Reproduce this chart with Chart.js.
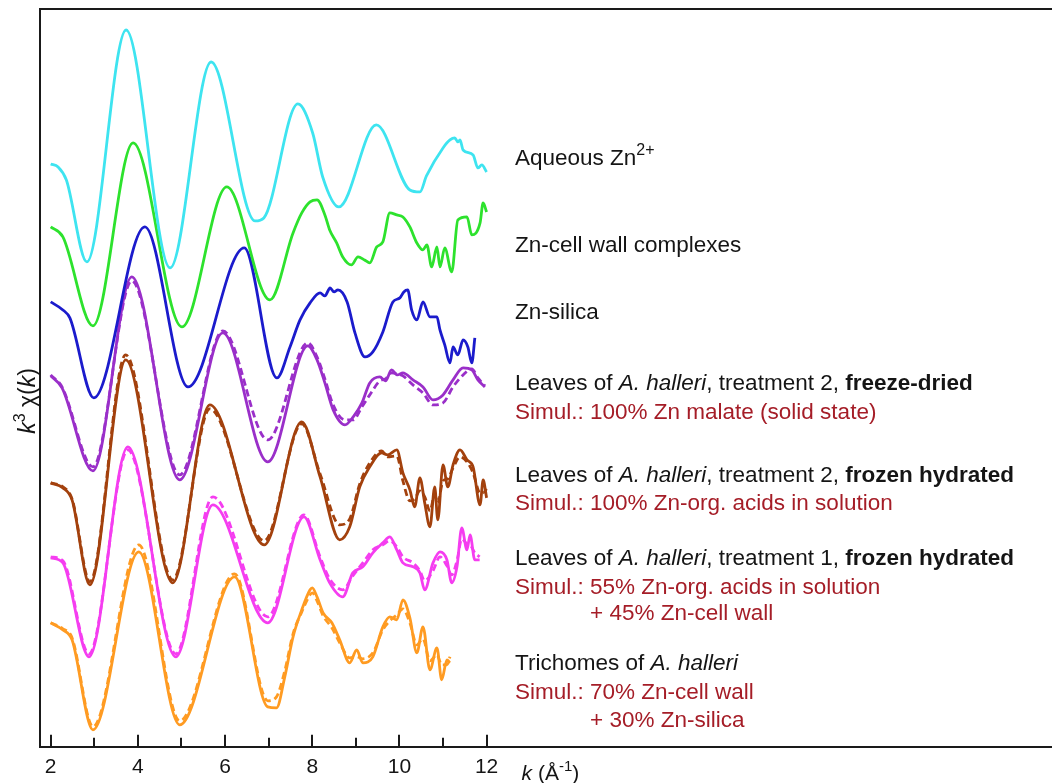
<!DOCTYPE html>
<html>
<head>
<meta charset="utf-8">
<script src="https://cdn.jsdelivr.net/npm/chart.js@4"></script>
<style>
  html, body { margin: 0; padding: 0; background: #fff; }
</style>
</head>
<body>
<canvas id="exafs" width="1052" height="783"></canvas>
<script>
// k (Å-1) ticks of the figure
const kTicks = [2, 3, 4, 5, 6, 7, 8, 9, 10, 11, 12];

// vertical shift of each spectrum in the stack (top to bottom)
const offsets = [58, 51, 44, 37, 26, 19, 11];

// Aqueous Zn2+
const kAqueous = [2.0, 2.17, 2.36, 2.83, 3.73, 4.74, 5.68, 6.69, 6.89, 7.67, 8.01, 8.24, 8.61, 9.47, 10.24, 10.47, 10.62, 11.0, 11.16, 11.27, 11.34, 11.39, 11.46, 11.69, 11.8, 11.89, 12.0];
const yAqueous = [0.3, 0.0, -1.3, -9.5, 13.7, -10.1, 10.5, -5.4, -5.1, 6.3, 3.4, -1.0, -4.0, 4.2, -2.3, -2.5, -0.9, 1.9, 2.7, 2.9, 2.5, 2.7, 1.7, 1.2, -0.1, 0.2, -0.5];

// Zn-cell wall complexes
const kCellWall = [2.0, 2.28, 2.97, 3.89, 5.01, 6.04, 7.03, 7.56, 7.76, 7.95, 8.11, 8.29, 8.4, 8.56, 8.7, 8.9, 9.05, 9.2, 9.32, 9.48, 9.62, 9.78, 9.94, 10.08, 10.24, 10.4, 10.54, 10.63, 10.74, 10.86, 10.93, 11.04, 11.2, 11.34, 11.55, 11.66, 11.85, 11.92, 12.0];
const yCellWall = [1.0, 0.0, -8.9, 9.4, -9.0, 5.0, -6.3, 0.4, 2.4, 3.5, 3.7, 2.2, 0.7, -0.6, -2.0, -2.8, -2.0, -2.3, -2.6, -1.0, -0.5, 2.4, 2.2, 2.0, 1.0, -0.6, -1.3, -0.8, -3.0, -1.0, -3.0, -1.1, -3.5, 1.7, 2.0, 0.2, 1.4, 3.4, 2.5];

// Zn-silica
const kSilica = [2.0, 2.28, 2.44, 2.99, 4.16, 5.15, 6.44, 7.19, 7.49, 7.72, 7.95, 8.18, 8.29, 8.41, 8.5, 8.59, 8.8, 8.98, 9.21, 9.39, 9.62, 9.85, 10.01, 10.1, 10.19, 10.28, 10.4, 10.54, 10.7, 10.86, 10.93, 11.04, 11.16, 11.23, 11.34, 11.46, 11.57, 11.66, 11.73];
const ySilica = [0.5, -0.3, -1.1, -9.1, 8.0, -8.0, 5.9, -7.1, -4.0, -1.3, 0.4, 1.4, 1.1, 1.9, 1.5, 1.7, 0.5, -2.6, -5.0, -4.5, -2.5, 0.5, 0.9, 1.5, 1.7, -0.3, -1.3, 0.5, -1.0, -1.0, -2.3, -3.8, -5.6, -4.0, -4.8, -3.3, -4.0, -5.6, -3.1];

// Leaves, treatment 2, freeze-dried (data and simulation)
const kFreezeDried = [2.0, 2.26, 2.97, 3.86, 4.96, 5.95, 6.98, 7.9, 8.11, 8.29, 8.48, 8.75, 8.94, 9.14, 9.32, 9.55, 9.68, 9.82, 9.95, 10.08, 10.31, 10.54, 10.77, 11.0, 11.23, 11.46, 11.66, 11.8, 11.96];
const yFreezeDried = [0.1, -1.1, -9.4, 10.0, -10.3, 4.4, -8.5, 3.1, 1.7, -0.6, -3.3, -4.8, -4.0, -2.6, -0.6, 0.0, -0.4, 0.7, 0.2, 0.4, -0.3, -1.0, -2.3, -1.8, -0.3, 0.9, 0.7, -0.3, -1.0];
const simFreezeDried = [0.2, -1.0, -9.0, 9.6, -9.8, 4.6, -6.3, 3.4, 2.0, -0.2, -2.8, -4.3, -4.3, -3.0, -1.8, -0.4, -0.2, 0.4, 0.3, 0.1, -0.8, -1.6, -2.8, -2.6, -1.0, 0.2, 0.8, -0.1, -0.9];

// Leaves, treatment 2, frozen hydrated (data and simulation)
const kFrozen2 = [2.0, 2.28, 2.49, 2.9, 3.72, 4.8, 5.65, 6.9, 7.76, 8.18, 8.63, 8.86, 9.09, 9.32, 9.59, 9.73, 9.94, 10.08, 10.24, 10.35, 10.47, 10.58, 10.7, 10.81, 10.88, 11.0, 11.11, 11.23, 11.39, 11.55, 11.69, 11.85, 11.92, 12.0];
const yFrozen2 = [0.4, -0.1, -1.3, -9.8, 12.7, -9.6, 8.2, -5.8, 6.5, 1.0, -5.3, -4.0, 0.0, 2.0, 3.4, 3.2, 3.7, 1.4, -0.3, -2.0, 0.9, -1.6, -4.0, 0.0, -3.3, 2.2, 0.0, 2.2, 3.7, 2.7, 2.0, -1.8, 0.7, -1.1];
const simFrozen2 = [0.4, 0.0, -1.2, -9.5, 13.2, -9.3, 7.8, -5.4, 6.3, 1.3, -3.8, -3.2, 0.3, 2.4, 3.6, 3.0, 3.1, 0.6, -1.4, -1.2, -0.4, -1.0, -2.4, -0.8, -1.6, 0.6, 0.8, 1.9, 3.0, 2.5, 1.4, -0.6, -0.6, -0.2];

// Leaves, treatment 1, frozen hydrated (data and simulation)
const kFrozen1 = [2.0, 2.28, 2.88, 3.77, 4.87, 5.72, 6.98, 7.81, 8.18, 8.4, 8.7, 8.93, 9.16, 9.39, 9.62, 9.78, 9.94, 10.08, 10.31, 10.47, 10.58, 10.77, 10.93, 11.09, 11.2, 11.32, 11.43, 11.55, 11.62, 11.73, 11.84];
const yFrozen1 = [-0.1, -0.6, -10.0, 11.0, -10.0, 5.2, -6.6, 4.0, -0.3, -2.6, -4.0, -1.6, -1.0, 0.4, 1.4, 2.0, 0.7, -0.6, -1.0, -1.6, -3.3, -0.6, 0.5, -0.3, -2.6, -1.0, 2.9, 0.7, 2.2, -0.3, -0.3];
const simFrozen1 = [0.0, -0.4, -9.7, 10.7, -9.7, 6.0, -6.0, 4.2, 0.0, -2.2, -3.3, -1.9, -0.6, 0.7, 1.2, 1.6, 1.0, 0.0, -0.6, -1.4, -2.4, -1.4, 0.0, -0.9, -1.8, -0.4, 1.8, 1.3, 1.2, 0.4, 0.0];

// Trichomes (data and simulation)
const kTrichomes = [2.0, 2.28, 2.49, 2.97, 4.02, 4.96, 6.22, 6.98, 7.18, 7.37, 7.56, 7.76, 7.95, 8.0, 8.11, 8.25, 8.45, 8.63, 8.86, 9.02, 9.16, 9.39, 9.62, 9.78, 9.94, 10.08, 10.24, 10.4, 10.54, 10.7, 10.86, 10.97, 11.09, 11.16];
const yTrichomes = [1.4, 0.7, -0.3, -9.3, 8.5, -8.8, 6.0, -7.0, -7.1, -4.0, 0.0, 2.7, 4.7, 4.9, 4.0, 2.4, 1.4, -0.3, -2.6, -1.3, -2.6, -2.0, 1.0, 2.0, 1.7, 3.7, 1.9, -1.6, 1.0, -3.3, -1.1, -4.3, -2.3, -2.6];
const simTrichomes = [1.4, 0.8, -0.1, -9.0, 9.2, -8.4, 6.3, -6.4, -6.0, -3.4, 0.3, 2.5, 4.2, 4.4, 3.6, 2.1, 0.9, -0.6, -2.1, -2.0, -2.2, -1.6, 0.7, 1.6, 2.2, 2.8, 1.4, -0.8, -0.2, -2.4, -1.8, -2.8, -2.8, -2.0];

// right-hand labels: runs of [text, style]
const labelLines = [
  [["Aqueous Zn"], ["2+", "sup"]],
  [["Zn-cell wall complexes"]],
  [["Zn-silica"]],
  [["Leaves of "], ["A. halleri", "i"], [", treatment 2, "], ["freeze-dried", "b"]],
  [["Simul.: 100% Zn malate (solid state)"]],
  [["Leaves of "], ["A. halleri", "i"], [", treatment 2, "], ["frozen hydrated", "b"]],
  [["Simul.: 100% Zn-org. acids in solution"]],
  [["Leaves of "], ["A. halleri", "i"], [", treatment 1, "], ["frozen hydrated", "b"]],
  [["Simul.: 55% Zn-org. acids in solution"]],
  [["+ 45% Zn-cell wall"]],
  [["Trichomes of "], ["A. halleri", "i"]],
  [["Simul.: 70% Zn-cell wall"]],
  [["+ 30% Zn-silica"]],
];
const labelY = [159, 246, 313, 384, 413, 476, 504, 559, 588, 614, 664, 693, 721];
const labelRed = [false, false, false, false, true, false, true, false, true, true, false, true, true];
const labelIndent = [false, false, false, false, false, false, false, false, false, true, false, false, true];

const FONT = '"Liberation Sans", Arial, Helvetica, sans-serif';
const BLACK = "#151515";
const RED = "#a51d27";

function toPoints(ks, ys, off) {
  return ks.map((k, i) => ({ x: k, y: ys[i] + off }));
}

function curve(ks, ys, off, color, dashed) {
  return {
    data: toPoints(ks, ys, off),
    borderColor: color,
    borderWidth: 2.8,
    borderDash: dashed ? [7, 4] : [],
    pointRadius: 0,
    cubicInterpolationMode: "monotone",
    fill: false,
  };
}

function fontFor(style, size) {
  const s = style || "";
  const italic = s === "i" ? "italic " : "";
  const bold = s === "b" ? "bold " : "";
  const px = s === "sup" ? Math.round(size * 0.7) : size;
  return `${italic}${bold}${px}px ${FONT}`;
}

// draws a line of text made of styled runs, returns the end x
function drawRuns(ctx, x, y, runs, size, color) {
  ctx.textBaseline = "middle";
  ctx.textAlign = "left";
  ctx.fillStyle = color;
  runs.forEach(([t, s]) => {
    ctx.font = fontFor(s, size);
    const dy = s === "sup" ? -size * 0.36 : 0;
    ctx.fillText(t, x, y + dy);
    x += ctx.measureText(t).width;
  });
  return x;
}

function runsWidth(ctx, runs, size) {
  let w = 0;
  runs.forEach(([t, s]) => {
    ctx.font = fontFor(s, size);
    w += ctx.measureText(t).width;
  });
  return w;
}

const decorPlugin = {
  id: "decor",
  afterDraw(chart) {
    const { ctx, chartArea: a } = chart;
    const x = chart.scales.x;
    ctx.save();

    // frame: left and top lines
    ctx.strokeStyle = "#1a1a1a";
    ctx.lineWidth = 2;
    ctx.beginPath();
    ctx.moveTo(a.left, a.bottom);
    ctx.lineTo(a.left, a.top);
    ctx.lineTo(a.right, a.top);
    ctx.stroke();

    // tick marks pointing inward
    kTicks.forEach((v) => {
      const px = Math.round(x.getPixelForValue(v));
      const len = v % 2 === 0 ? 12 : 9;
      ctx.beginPath();
      ctx.moveTo(px, a.bottom);
      ctx.lineTo(px, a.bottom - len);
      ctx.stroke();
    });

    // x axis title
    const xt = [["k", "i"], [" (Å"], ["-1", "sup"], [")"]];
    drawRuns(ctx, x.getPixelForValue(12) + 35, 774, xt, 21, BLACK);

    // y axis title
    const yt = [["k", "i"], ["3", "sup"], [" χ("], ["k", "i"], [")"]];
    ctx.save();
    ctx.translate(29, 401);
    ctx.rotate(-Math.PI / 2);
    drawRuns(ctx, -runsWidth(ctx, yt, 23) / 2, 0, yt, 23, BLACK);
    ctx.restore();

    // curve labels
    const left = 515;
    ctx.font = fontFor("", 22.5);
    const indent = left + ctx.measureText("Simul.: ").width;
    labelLines.forEach((runs, i) => {
      drawRuns(ctx, labelIndent[i] ? indent : left, labelY[i], runs, 22.5, labelRed[i] ? RED : BLACK);
    });

    ctx.restore();
  },
};

const colors = ["#3ee4f0", "#2de22d", "#1b1bcc", "#9a2fc9", "#a3410d", "#f53df0", "#ff9b22"];

const datasets = [
  curve(kAqueous, yAqueous, offsets[0], colors[0], false),
  curve(kCellWall, yCellWall, offsets[1], colors[1], false),
  curve(kSilica, ySilica, offsets[2], colors[2], false),
  curve(kFreezeDried, simFreezeDried, offsets[3], colors[3], true),
  curve(kFreezeDried, yFreezeDried, offsets[3], colors[3], false),
  curve(kFrozen2, simFrozen2, offsets[4], colors[4], true),
  curve(kFrozen2, yFrozen2, offsets[4], colors[4], false),
  curve(kFrozen1, simFrozen1, offsets[5], colors[5], true),
  curve(kFrozen1, yFrozen1, offsets[5], colors[5], false),
  curve(kTrichomes, simTrichomes, offsets[6], colors[6], true),
  curve(kTrichomes, yTrichomes, offsets[6], colors[6], false),
];

new Chart(document.getElementById("exafs"), {
  type: "line",
  data: { datasets },
  options: {
    responsive: false,
    animation: false,
    devicePixelRatio: 1,
    layout: { padding: { left: 40, top: 9, right: 0, bottom: -5 } },
    plugins: { legend: { display: false }, tooltip: { enabled: false } },
    scales: {
      x: {
        type: "linear",
        min: 1.755,
        max: 24.97,
        afterBuildTicks: (s) => {
          s.ticks = kTicks.map((v) => ({ value: v }));
        },
        ticks: {
          autoSkip: false,
          maxRotation: 0,
          padding: 8,
          color: BLACK,
          font: { size: 21, family: FONT },
          callback: (v) => (v % 2 === 0 ? String(v) : ""),
        },
        grid: { display: false, drawTicks: false },
        border: { display: true, color: "#1a1a1a", width: 2 },
      },
      y: {
        type: "linear",
        min: 0,
        max: 73.8,
        display: false,
      },
    },
  },
  plugins: [decorPlugin],
});
</script>
</body>
</html>
